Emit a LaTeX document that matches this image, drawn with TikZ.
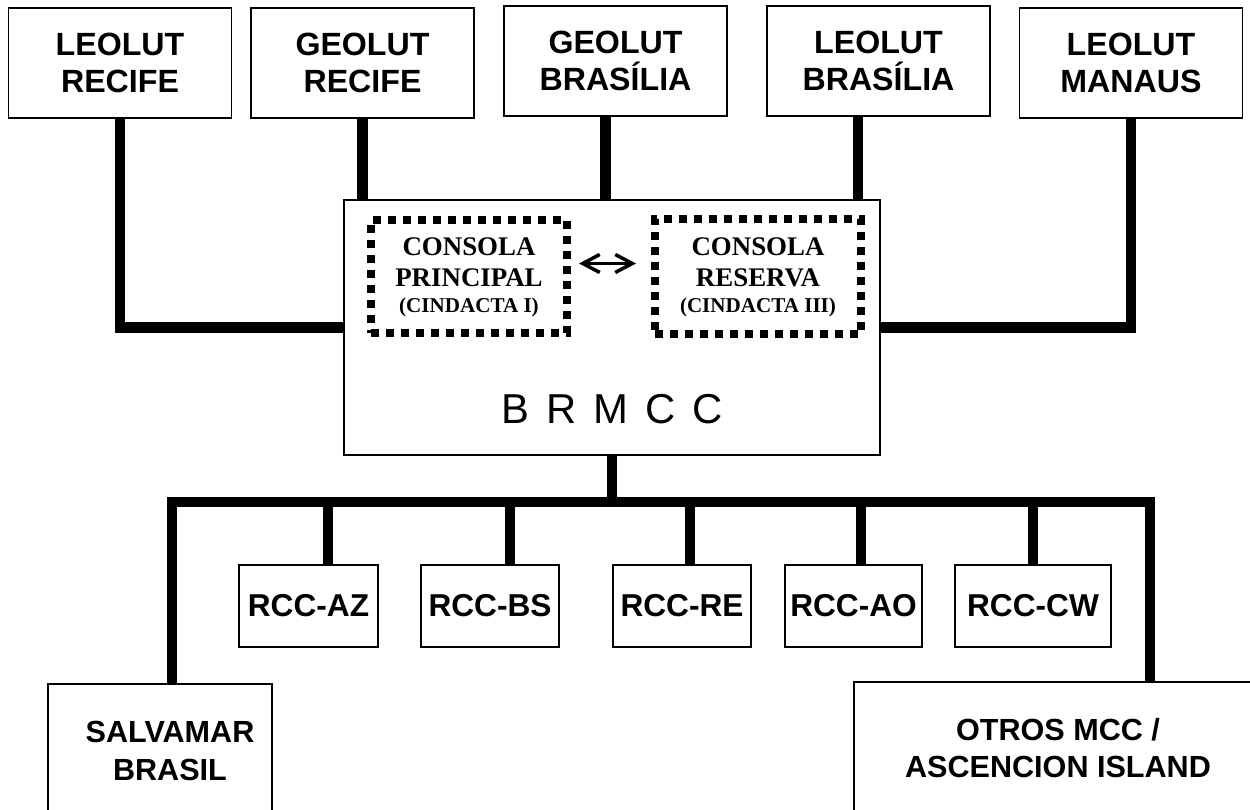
\documentclass[tikz,border=0pt]{standalone}
\usepackage{fontspec}
\setmainfont{Liberation Sans}
\newfontfamily\timesbold{Liberation Serif}
\usetikzlibrary{arrows.meta}

\begin{document}
\begin{tikzpicture}[
    box/.style={draw,line width=1.1pt,inner sep=0pt,align=center},
    station/.style={box,minimum width=4.46cm,minimum height=2.2cm,font=\fontsize{18.3}{21.5}\selectfont\bfseries},
    rcc/.style={box,minimum height=1.64cm,font=\fontsize{18}{21}\selectfont\bfseries},
    outer/.style={box,font=\fontsize{17.4}{21.5}\selectfont\bfseries},
    console/.style={draw,line width=0.16cm,dash pattern=on 0.16cm off 0.14cm,inner sep=0pt,align=center,
      font=\timesbold\fontsize{15.3}{18.1}\selectfont\bfseries},
    link/.style={line width=5.8pt}]
\useasboundingbox (0,0) rectangle (25,16.2);
\clip (0,0) rectangle (25,16.2);
    \node[station] (1) at (2.40,14.94) {LEOLUT\\RECIFE};
    \node[station] (2) at (7.25,14.94) {GEOLUT\\RECIFE};
    \node[station] (3) at (12.31,14.98) {GEOLUT\\BRASÍLIA};
    \node[station] (4) at (17.57,14.98) {LEOLUT\\BRASÍLIA};
    \node[station] (5) at (22.62,14.94) {LEOLUT\\MANAUS};
    \node[box,minimum width=10.72cm,minimum height=5.1cm] (6) at (12.24,9.65) {};
    \node[anchor=base,font=\fontsize{23.8}{28}\selectfont] (7) at ([yshift=0.64cm]6.south)
      {\spaceskip=0.41em\relax B R M C C};
    \node[console,minimum width=3.92cm,minimum height=2.26cm] (8) at (9.38,10.66)
      {CONSOLA\\PRINCIPAL\\[-3.6pt]{\fontsize{12}{14.5}\selectfont (CINDACTA I)}};
    \node[console,minimum width=4.12cm,minimum height=2.3cm] (9) at (15.16,10.66)
      {CONSOLA\\RESERVA\\[-3.6pt]{\fontsize{12}{14.5}\selectfont (CINDACTA III)}};
    \node[rcc,minimum width=2.78cm] (10) at (6.17,4.08) {RCC-AZ};
    \node[rcc,minimum width=2.76cm] (11) at (9.80,4.08) {RCC-BS};
    \node[rcc,minimum width=2.76cm] (12) at (13.64,4.08) {RCC-RE};
    \node[rcc,minimum width=2.74cm] (13) at (17.07,4.08) {RCC-AO};
    \node[rcc,minimum width=3.12cm] (14) at (20.66,4.08) {RCC-CW};
    \node[outer,minimum width=4.48cm,minimum height=2.68cm] (15) at (3.20,1.18)
      {\hspace*{0.4cm}SALVAMAR\\\hspace*{0.4cm}BRASIL};
    \node[outer,minimum width=8.16cm,minimum height=2.64cm] (16) at (21.16,1.24) {OTROS MCC /\\ASCENCION ISLAND};
\coordinate (bus) at (0,6.16);
\coordinate (t3) at ([xshift=-0.2cm]3.south);
\coordinate (t4) at ([xshift=-0.41cm]4.south);
\coordinate (t15) at ([xshift=0.24cm]15.north);
\coordinate (t16) at ([xshift=1.84cm]16.north);
 \draw[link] (1.south) |- (6.west);
 \draw[link] (5.south) |- (6.east);
 \foreach \t in {2.south,t3,t4} \draw[link] (\t) -- (\t |- 6.north);
 \draw[link] (6.south) -- (6.south |- bus);
 \draw[link] (t15) |- (6.south |- bus) -| (t16);
 \foreach \n/\s in {10/0.39,11/0.40,12/0.16,13/0.15,14/0} {
   \path ([xshift=\s cm]\n.north) coordinate (t\n);
   \draw[link] (t\n) -- (t\n |- bus);
 }
 \draw[line width=2pt,{Straight Barb[length=3.4mm,width=3.6mm]}-{Straight Barb[length=3.4mm,width=3.6mm]},
   shorten <=0.16cm,shorten >=0.3cm] ([yshift=0.27cm]8.east) -- ([yshift=0.27cm]9.west);
\end{tikzpicture}
\end{document}
